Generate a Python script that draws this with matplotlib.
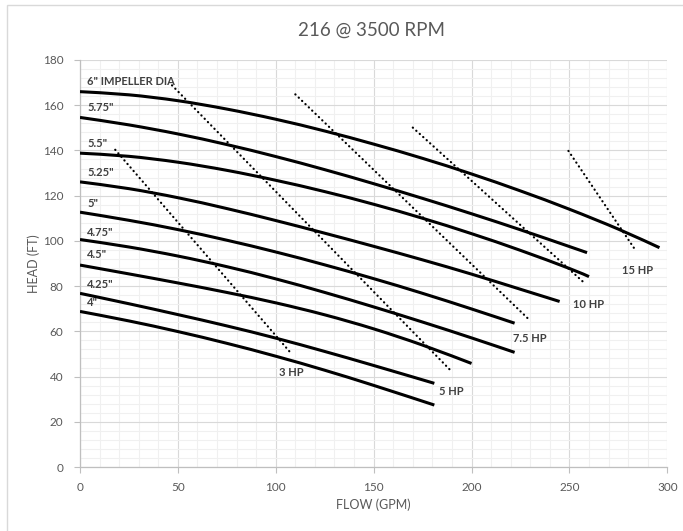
import matplotlib
matplotlib.use("Agg")
import matplotlib.pyplot as plt
from matplotlib.patches import Rectangle, PathPatch
from matplotlib.path import Path
from matplotlib.ticker import MultipleLocator

plt.rcParams['font.family'] = ['Lato', 'DejaVu Sans']

# ---- data: impeller curves (flow GPM, head FT) ----
flow_600 = [0, 25, 50, 75, 100, 125, 150, 175, 200, 225, 250, 275, 296]
head_600 = [166, 164.6, 162, 158.3, 153.8, 148.6, 142.8, 136.5, 129.6, 122.1, 114.0, 105.2, 97.0]
flow_575 = [0, 25, 50, 75, 100, 125, 150, 175, 200, 225, 250, 259]
head_575 = [154.6, 151.3, 147.3, 142.6, 137.3, 131.5, 125.3, 118.8, 112.0, 104.9, 97.5, 94.8]
flow_550 = [0, 25, 50, 75, 100, 125, 150, 175, 200, 225, 250, 260]
head_550 = [138.8, 137.4, 134.8, 131.2, 126.8, 121.8, 116.2, 110.0, 103.2, 95.8, 87.8, 84.2]
flow_525 = [0, 25, 50, 75, 100, 125, 150, 175, 200, 225, 245]
head_525 = [126.1, 123.1, 119.1, 114.3, 109.0, 103.4, 97.6, 91.6, 85.3, 78.6, 73.2]
flow_500 = [0, 25, 50, 75, 100, 125, 150, 175, 200, 222]
head_500 = [112.7, 109.1, 105.0, 100.3, 95.1, 89.4, 83.3, 76.8, 69.9, 63.6]
flow_475 = [0, 25, 50, 75, 100, 125, 150, 175, 200, 222]
head_475 = [100.6, 97.3, 93.3, 88.6, 83.2, 77.2, 70.8, 64.1, 57.1, 50.7]
flow_450 = [0, 25, 50, 75, 100, 125, 150, 175, 200]
head_450 = [89.3, 85.4, 81.4, 77.2, 72.6, 67.3, 61.1, 53.9, 45.8]
flow_425 = [0, 25, 50, 75, 100, 125, 150, 181]
head_425 = [76.8, 72.2, 67.4, 62.4, 57.0, 51.1, 44.9, 37.0]
flow_400 = [0, 25, 50, 75, 100, 125, 150, 181]
head_400 = [68.8, 64.6, 59.9, 54.7, 49.0, 42.8, 36.1, 27.4]

curve_flows = [flow_600, flow_575, flow_550, flow_525, flow_500,
               flow_475, flow_450, flow_425, flow_400]
curve_heads = [head_600, head_575, head_550, head_525, head_500,
               head_475, head_450, head_425, head_400]

curve_labels = ['6" IMPELLER DIA', '5.75"', '5.5"', '5.25"', '5"',
                '4.75"', '4.5"', '4.25"', '4"']
curve_label_x = [3.6, 3.6, 3.6, 3.6, 3.6, 3.6, 3.6, 3.6, 3.6]
curve_label_y = [170.4, 158.9, 143.1, 130.3, 116.7, 103.9, 93.8, 80.8, 72.9]

# ---- data: horsepower lines (start/end points) ----
hp_labels = ['3 HP', '5 HP', '7.5 HP', '10 HP', '15 HP']
hp_flow = [[18, 108], [47, 190], [110, 229.5], [170, 257.5], [249.5, 283.5]]
hp_head = [[140.3, 50.1], [168.8, 42.1], [164.8, 65.1], [150.1, 81.5], [139.8, 96.2]]
hp_label_x = [101.5, 183.5, 221, 251.9, 276.7]
hp_label_y = [42, 33.6, 56.7, 71.7, 86.8]

title = "216 @ 3500 RPM"
x_label = "FLOW (GPM)"
y_label = "HEAD (FT)"


def smooth_path(xs, ys):
    """Smoothed line through the points (like a spreadsheet 'smoothed line')."""
    pts = list(zip(xs, ys))
    n = len(pts)
    verts = [pts[0]]
    codes = [Path.MOVETO]
    for i in range(n - 1):
        p0 = pts[i - 1] if i > 0 else pts[i]
        p1 = pts[i]
        p2 = pts[i + 1]
        p3 = pts[i + 2] if i + 2 < n else pts[i + 1]
        c1 = (p1[0] + (p2[0] - p0[0]) / 6.0, p1[1] + (p2[1] - p0[1]) / 6.0)
        c2 = (p2[0] - (p3[0] - p1[0]) / 6.0, p2[1] - (p3[1] - p1[1]) / 6.0)
        verts += [c1, c2, p2]
        codes += [Path.CURVE4, Path.CURVE4, Path.CURVE4]
    return Path(verts, codes)


W, H = 683, 531
fig = plt.figure(figsize=(W / 100, H / 100), dpi=100)
fig.patch.set_facecolor('white')

# outer chart border
fig.patches.append(Rectangle((7.3 / W, -0.01), 1.05, 1 - 5 / H + 0.01,
                             transform=fig.transFigure, fill=False,
                             edgecolor='#d9d9d9', linewidth=1.0))

ax = fig.add_axes([80 / W, 1 - 467 / H, (667.3 - 80) / W, (467 - 60) / H])
ax.set_xlim(0, 300)
ax.set_ylim(0, 180)
ax.xaxis.set_major_locator(MultipleLocator(50))
ax.xaxis.set_minor_locator(MultipleLocator(10))
ax.yaxis.set_major_locator(MultipleLocator(20))
ax.yaxis.set_minor_locator(MultipleLocator(4))
ax.grid(which='minor', color='#f0f0f0', linewidth=0.8, zorder=0)
ax.grid(which='major', color='#d9d9d9', linewidth=0.8, zorder=0)
ax.set_axisbelow(True)

for s in ['top', 'right']:
    ax.spines[s].set_visible(False)
for s in ['left', 'bottom']:
    ax.spines[s].set_color('#bfbfbf')
    ax.spines[s].set_linewidth(0.9)

ax.tick_params(which='major', length=4, width=0.8, color='#bfbfbf',
               labelcolor='#595959', labelsize=8.5, pad=7)
ax.tick_params(axis='y', which='major', pad=8)
ax.tick_params(which='minor', length=0)

for fl, hd in zip(curve_flows, curve_heads):
    ax.add_patch(PathPatch(smooth_path(fl, hd), facecolor='none',
                           edgecolor='black', linewidth=2.2,
                           capstyle='butt', zorder=3))

for fl, hd in zip(hp_flow, hp_head):
    ax.plot(fl, hd, color='black', linewidth=1.6, linestyle=(0, (0.1, 2.0)),
            dash_capstyle='round', zorder=4)

for lab, x, y in zip(curve_labels, curve_label_x, curve_label_y):
    ax.text(x, y, lab, fontsize=8, fontweight='bold', color='#404040',
            ha='left', va='center', zorder=5)

for lab, x, y in zip(hp_labels, hp_label_x, hp_label_y):
    ax.text(x, y, lab, fontsize=8, fontweight='bold', color='#404040',
            ha='left', va='center', zorder=5)

ax.set_xlabel(x_label, fontsize=9, color='#595959', labelpad=4)
ax.set_ylabel(y_label, fontsize=9, color='#595959', labelpad=2)

fig.text(372 / W, 1 - 30 / H, title, fontsize=13.5, color='#595959',
         ha='center', va='center')

fig.savefig('out.png', dpi=100)
